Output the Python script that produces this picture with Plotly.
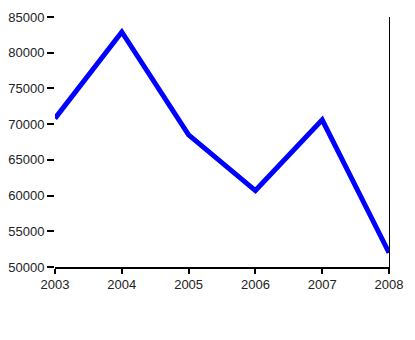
import plotly.graph_objects as go

years = [2003, 2004, 2005, 2006, 2007, 2008]
values = [70800, 82900, 68500, 60700, 70600, 52000]
y_ticks = [50000, 55000, 60000, 65000, 70000, 75000, 80000, 85000]
x_ticks = years

fig = go.Figure()
fig.add_trace(go.Scatter(
    x=years, y=values, mode="lines",
    line=dict(color="#0000ff", width=5),
    hoverinfo="skip", showlegend=False,
))
# invisible trace to carry the right-hand line
fig.add_trace(go.Scatter(x=[years[0]], y=[values[0]], yaxis="y2", mode="lines",
                         line=dict(width=0), hoverinfo="skip", showlegend=False))

font = dict(family="Liberation Sans, Arial, sans-serif", size=13, color="#222")
fig.update_layout(
    width=415, height=340,
    margin=dict(l=55, r=26, t=17, b=73, autoexpand=False),
    paper_bgcolor="white", plot_bgcolor="white",
    xaxis=dict(range=[2003, 2008], tickvals=x_ticks, ticktext=[str(v) for v in x_ticks],
               showgrid=False, zeroline=False, showline=True, linecolor="black", linewidth=1.5,
               ticks="outside", ticklen=5, tickwidth=2, tickcolor="black", tickfont=font,
               automargin=False),
    yaxis=dict(range=[50000, 85000], tickvals=y_ticks, ticktext=[str(v) for v in y_ticks],
               showgrid=False, zeroline=False, showline=False,
               ticks="outside", ticklen=7, tickwidth=2, tickcolor="black", tickfont=font,
               ticklabelstandoff=0, automargin=False),
    yaxis2=dict(range=[50000, 85000], overlaying="y", side="right", showgrid=False,
                zeroline=False, showline=True, linecolor="black", linewidth=1,
                showticklabels=False, ticks="", automargin=False),
)
fig.write_html("out.html")
